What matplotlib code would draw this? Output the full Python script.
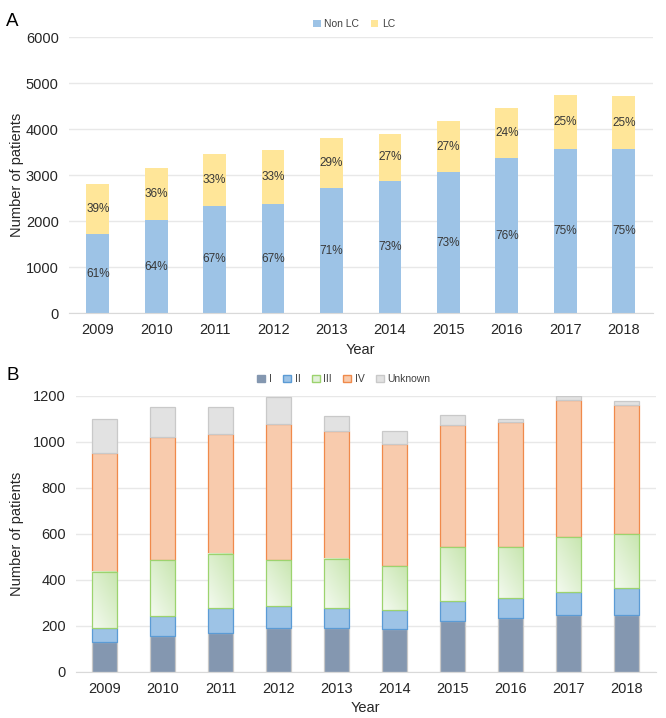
import numpy as np
import matplotlib
matplotlib.use("Agg")
import matplotlib.pyplot as plt
from matplotlib.patches import Patch
from matplotlib.colors import LinearSegmentedColormap

plt.rcParams["font.family"] = ["Liberation Sans", "DejaVu Sans"]

# ---- data ----
years = ["2009", "2010", "2011", "2012", "2013", "2014", "2015", "2016", "2017", "2018"]

# panel A: lung cancer (LC) vs other
non_lc = [1717, 2036, 2341, 2377, 2725, 2884, 3065, 3384, 3565, 3565]
lc = [1087, 1131, 1130, 1166, 1094, 1022, 1109, 1080, 1181, 1160]
non_lc_pct = ["61%", "64%", "67%", "67%", "71%", "73%", "73%", "76%", "75%", "75%"]
lc_pct = ["39%", "36%", "33%", "33%", "29%", "27%", "27%", "24%", "25%", "25%"]

# panel B: LC patients by stage
stage_labels = ["I", "II", "III", "IV", "Unknown"]
stage_1 = [132, 156, 171, 190, 192, 187, 221, 234, 246, 246]
stage_2 = [60, 87, 105, 98, 84, 84, 86, 86, 103, 119]
stage_3 = [244, 243, 236, 198, 213, 191, 234, 221, 236, 233]
stage_4 = [513, 533, 521, 589, 556, 526, 531, 543, 596, 563]
stage_unk = [150, 130, 116, 119, 68, 60, 45, 15, 16, 14]

TXT = "#262626"
GRID = "#E8E8E8"
FS = 10.5


def style_axes(ax, ymax, step, ylab_x):
    ax.set_ylim(0, ymax)
    ax.set_yticks(np.arange(0, ymax + 1, step))
    ax.set_xlim(-0.5, len(years) - 0.5)
    for s in ["left", "right", "top"]:
        ax.spines[s].set_visible(False)
    ax.spines["bottom"].set_color("#D9D9D9")
    ax.spines["bottom"].set_zorder(4)
    ax.yaxis.grid(True, color=GRID, linewidth=1.0)
    ax.set_axisbelow(True)
    ax.tick_params(length=0, labelsize=FS, colors=TXT)
    ax.tick_params(axis="x", pad=7)
    ax.tick_params(axis="y", pad=7)
    ax.set_xlabel("Year", fontsize=FS, color=TXT, labelpad=4)
    ax.set_ylabel("Number of patients", fontsize=FS, color=TXT, va="center")
    ax.yaxis.set_label_coords(ylab_x, 0.5)


fig = plt.figure(figsize=(6.66, 7.18), dpi=100)
axA = fig.add_axes([0.1029, 0.5636, 0.8776, 0.3844])
axB = fig.add_axes([0.1134, 0.0641, 0.8709, 0.3849])

x = np.arange(len(years))

# ---------------- panel A ----------------
wA = 0.39
axA.bar(x, non_lc, wA, color="#9DC3E6", zorder=3)
axA.bar(x, lc, wA, bottom=non_lc, color="#FFE699", zorder=3)
for i in range(len(years)):
    axA.text(x[i], non_lc[i] / 2, non_lc_pct[i], ha="center", va="center",
             fontsize=8.5, color="#383838", zorder=5)
    axA.text(x[i], non_lc[i] + lc[i] / 2, lc_pct[i], ha="center", va="center",
             fontsize=8.5, color="#383838", zorder=5)
axA.set_xticks(x, years)
style_axes(axA, 6000, 1000, (17 - 68.5) / 584.5)

# ---------------- panel B ----------------
wB = 0.42
s1 = np.array(stage_1)
s2 = np.array(stage_2)
s3 = np.array(stage_3)
s4 = np.array(stage_4)
su = np.array(stage_unk)

lw = 0.9
axB.bar(x, s1, wB, color="#8497B0", edgecolor="#C8C8C8", linewidth=lw, zorder=3)
axB.bar(x, s2, wB, bottom=s1, color="#9DC3E6", edgecolor="#5B9BD5", linewidth=lw, zorder=3)
b3 = axB.bar(x, s3, wB, bottom=s1 + s2, color="none", edgecolor="#9CD36E", linewidth=lw, zorder=3.2)
axB.bar(x, s4, wB, bottom=s1 + s2 + s3, color="#F8CBAD", edgecolor="#F08A4B", linewidth=lw, zorder=3)
axB.bar(x, su, wB, bottom=s1 + s2 + s3 + s4, color="#E2E2E2", edgecolor="#C9C9C9", linewidth=lw, zorder=3)

# stage III has a soft diagonal gradient fill
green = LinearSegmentedColormap.from_list("g", ["#F4FAF0", "#C8E6B0"])
gx, gy = np.meshgrid(np.linspace(0, 1, 50), np.linspace(0, 1, 50))
grad = (0.45 * gx + 0.55 * gy)
for p in b3.patches:
    x0, y0 = p.get_x(), p.get_y()
    axB.imshow(grad, cmap=green, origin="lower", aspect="auto", interpolation="bilinear",
               extent=[x0, x0 + p.get_width(), y0, y0 + p.get_height()], zorder=3.1)
axB.set_xticks(x, years)
style_axes(axB, 1200, 200, (17 - 75.5) / 580)

# ---------------- legends / panel letters ----------------
legA = [Patch(facecolor="#9DC3E6", edgecolor="none", label="Non LC"),
        Patch(facecolor="#FFE699", edgecolor="none", label="LC")]
fig.legend(handles=legA, loc="center", bbox_to_anchor=(354 / 666, 1 - 24 / 718), ncol=2,
           frameon=False, fontsize=7.5, handlelength=0.75, handleheight=0.75,
           handletextpad=0.35, columnspacing=1.1, labelcolor="#404040")

legB = [Patch(facecolor="#8497B0", edgecolor="#8497B0", label=stage_labels[0]),
        Patch(facecolor="#9DC3E6", edgecolor="#5B9BD5", label=stage_labels[1]),
        Patch(facecolor="#E2F0D9", edgecolor="#9CD36E", label=stage_labels[2]),
        Patch(facecolor="#F8CBAD", edgecolor="#F08A4B", label=stage_labels[3]),
        Patch(facecolor="#E2E2E2", edgecolor="#C9C9C9", label=stage_labels[4])]
fig.legend(handles=legB, loc="center", bbox_to_anchor=(344 / 666, 1 - 379 / 718), ncol=5,
           frameon=False, fontsize=7.5, handlelength=0.75, handleheight=0.75,
           handletextpad=0.35, columnspacing=1.1, labelcolor="#404040")

fig.text(6 / 666, 1 - 21 / 718, "A", fontsize=13.5, color="black", va="center")
fig.text(6 / 666, 1 - 376 / 718, "B", fontsize=13.5, color="black", va="center")

fig.savefig("out.png", dpi=100)
